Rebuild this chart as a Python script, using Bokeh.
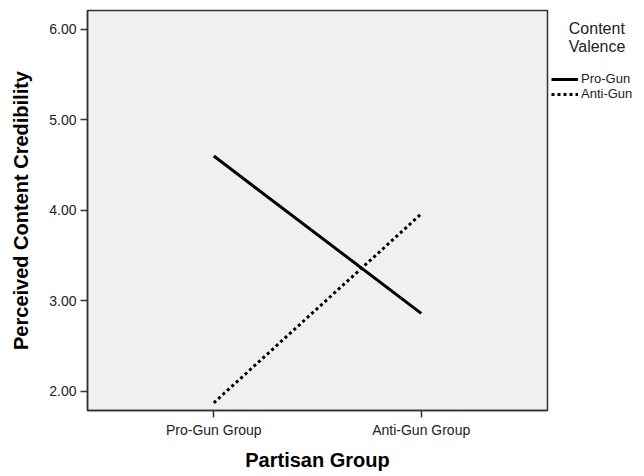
from bokeh.plotting import figure
from bokeh.models import Range1d, FixedTicker, NumeralTickFormatter, Legend, LegendItem
from bokeh.embed import file_html
from bokeh.resources import INLINE

groups = ["Pro-Gun Group", "Anti-Gun Group"]
group_pos = [0, 1]
pro_gun = [4.60, 2.86]
anti_gun = [1.87, 3.96]
y_ticks = [2, 3, 4, 5, 6]

FONT = "Liberation Sans"
NB = "\u00a0"

p = figure(frame_width=460, frame_height=400, output_backend="svg", toolbar_location=None,
           x_range=Range1d(-0.609, 1.609), y_range=Range1d(1.785, 6.21),
           min_border_left=87, min_border_right=97, min_border_top=10, min_border_bottom=66)

p.background_fill_color = "#F0F0F0"
p.border_fill_color = "white"
p.outline_line_color = "#333333"
p.outline_line_width = 1.5
p.grid.visible = False

r1 = p.line(group_pos, pro_gun, line_color="black", line_width=3)
r2 = p.line(group_pos, anti_gun, line_color="black", line_width=3, line_dash="3 3")

p.xaxis.ticker = FixedTicker(ticks=group_pos)
p.xaxis.major_label_overrides = {k: v for k, v in zip(group_pos, groups)}
p.yaxis.ticker = FixedTicker(ticks=y_ticks)
p.yaxis.formatter = NumeralTickFormatter(format="0.00")

for ax in (p.xaxis[0], p.yaxis[0]):
    ax.minor_tick_line_color = None
    ax.major_tick_in = 0
    ax.major_tick_out = 7
    ax.major_tick_line_color = "#333333"
    ax.major_tick_line_width = 1.5
    ax.axis_line_color = "#333333"
    ax.axis_line_width = 1.5
    ax.major_label_text_font = FONT
    ax.major_label_text_font_size = "14px"
    ax.major_label_text_color = "#222222"
    ax.axis_label_text_font = FONT
    ax.axis_label_text_font_style = "bold"
    ax.axis_label_text_font_size = "20px"
    ax.axis_label_text_color = "black"
    ax.major_label_standoff = 4

p.xaxis.axis_label = "Partisan Group"
p.yaxis.axis_label = "Perceived Content Credibility"
p.xaxis.axis_label_standoff = 8
p.yaxis.axis_label_standoff = 14

legend = Legend(items=[LegendItem(label="Pro-Gun", renderers=[r1]),
                       LegendItem(label="Anti-Gun", renderers=[r2])],
                location=(4, 309), orientation="vertical",
                title=NB * 4 + "Content\n" + NB * 4 + "Valence")
legend.border_line_color = None
legend.background_fill_alpha = 0
legend.padding = 0
legend.margin = 0
legend.spacing = 0
legend.glyph_width = 27
legend.glyph_height = 14
legend.label_height = 14
legend.label_standoff = 3
legend.label_text_font = FONT
legend.label_text_font_size = "13px"
legend.label_text_color = "#222222"
legend.title_text_font = FONT
legend.title_text_font_size = "16px"
legend.title_text_font_style = "normal"
legend.title_text_color = "#222222"
legend.title_standoff = 15
p.add_layout(legend, "right")

with open("out.html", "w") as f:
    f.write(file_html(p, INLINE))
